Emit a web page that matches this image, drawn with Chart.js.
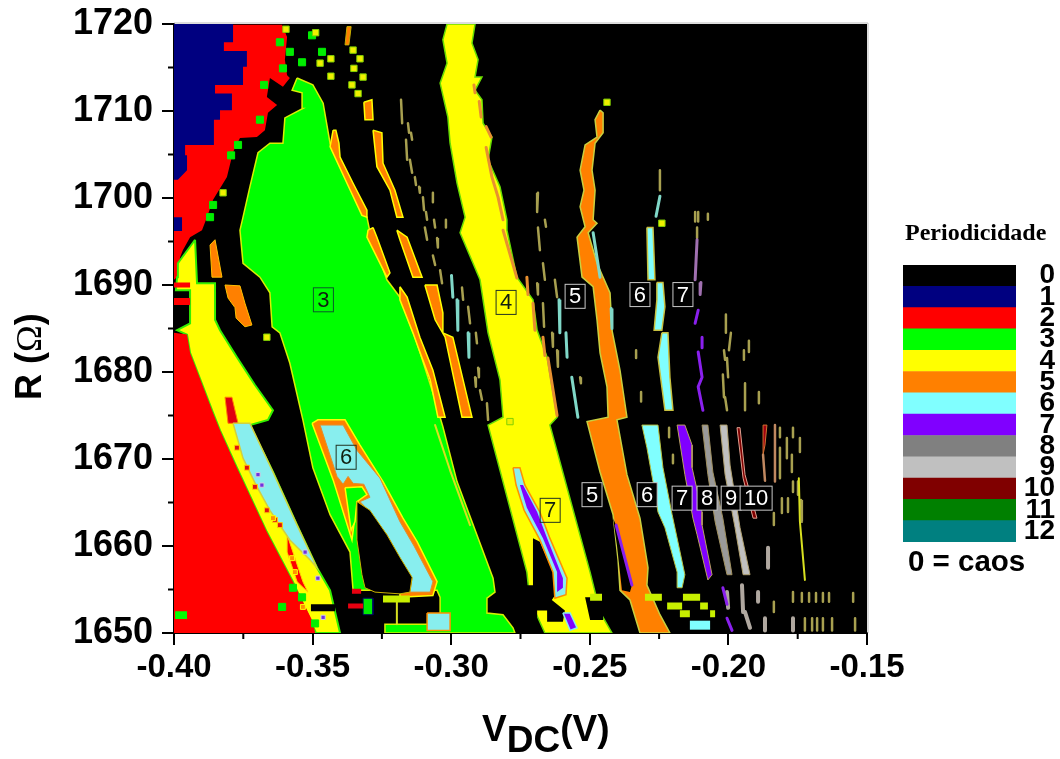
<!DOCTYPE html>
<html>
<head>
<meta charset="utf-8">
<title>Periodicidade</title>
<script src="https://cdn.jsdelivr.net/npm/chart.js@4"></script>
<style>
  body { margin: 0; background: #fff; width: 1060px; height: 759px; overflow: hidden; position: relative; }
  canvas { position: absolute; }
  .txt { position: absolute; white-space: nowrap; color: #000; font-family: "Liberation Sans", Arial, sans-serif; font-weight: bold; }
  #xlabel { left: 482px; top: 708px; font-size: 37px; }
  #xlabel sub { font-size: 37px; vertical-align: -11px; line-height: 0; }
  #ylabel { left: 0; top: 0; font-size: 36px; transform-origin: 0 0; transform: translate(8px, 400px) rotate(-90deg); }
  #ylabel span { font-family: "Liberation Serif", serif; font-weight: normal; }
  #perio { left: 905px; top: 219px; font-family: "Liberation Serif", serif; font-size: 24px; }
  #caos { left: 908px; top: 544px; font-size: 29.5px; }
</style>
</head>
<body>
<canvas id="mapChart" width="1060" height="759" style="left:0;top:0"></canvas>
<canvas id="keyChart" width="152" height="317" style="left:903px;top:245px"></canvas>
<div class="txt" id="xlabel">V<sub>DC</sub>(V)</div>
<div class="txt" id="ylabel">R (<span>Ω</span>)</div>
<div class="txt" id="perio">Periodicidade</div>
<div class="txt" id="caos">0 = caos</div>
<script>
// tick labels
const xTickValues = [-0.4, -0.35, -0.3, -0.25, -0.2, -0.15];
const xTickLabels = ["-0.40", "-0.35", "-0.30", "-0.25", "-0.20", "-0.15"];
const xMinorTicks = [-0.375, -0.325, -0.275, -0.225, -0.175];
const yTickValues = [1650, 1660, 1670, 1680, 1690, 1700, 1710, 1720];
const yTickLabels = ["1650", "1660", "1670", "1680", "1690", "1700", "1710", "1720"];
const yMinorTicks = [1655, 1665, 1675, 1685, 1695, 1705, 1715];

// colour key
const periodLabels = ["0", "1", "2", "3", "4", "5", "6", "7", "8", "9", "10", "11", "12"];
const periodColors = ["#000000", "#000080", "#ff0000", "#00ff00", "#ffff00", "#ff8000", "#80ffff", "#8000ff", "#808080", "#c0c0c0", "#800000", "#008000", "#008080"];
const periodBars = [1, 1, 1, 1, 1, 1, 1, 1, 1, 1, 1, 1, 1];

// boxed numbers on the map: V, R, text
const noteV = [-0.3461, -0.3379, -0.2802, -0.2643, -0.2553, -0.2319, -0.2164, -0.2492, -0.2293, -0.2167, -0.2077, -0.1990, -0.1900];
const noteR = [1688.3, 1670.2, 1688, 1664.1, 1688.7, 1688.9, 1688.9, 1665.9, 1665.9, 1665.5, 1665.5, 1665.5, 1665.5];
const noteText = ["3", "6", "4", "7", "5", "6", "7", "5", "6", "7", "8", "9", "10"];

// regions, pairs of [V, R]
const chaosArea = [[-0.4, 1650], [-0.15, 1650], [-0.15, 1720], [-0.4, 1720]];
const redUpper = [[-0.4, 1719.9], [-0.3610, 1719.9], [-0.3592, 1718.5], [-0.3600, 1715.9], [-0.3592, 1714.1], [-0.3582, 1713.8], [-0.3607, 1712.8], [-0.3654, 1713.8], [-0.3665, 1711.6], [-0.3628, 1710.7], [-0.3661, 1709.8], [-0.3672, 1707.8], [-0.3701, 1707], [-0.3762, 1706.9], [-0.3787, 1705.3], [-0.3809, 1702.4], [-0.3859, 1699.8], [-0.3881, 1697.8], [-0.3899, 1696.3], [-0.3942, 1695.5], [-0.3968, 1694], [-0.3978, 1693.2], [-0.3989, 1690.9], [-0.4, 1690.6]];
const redLower = [[-0.4, 1684.5], [-0.3953, 1684.3], [-0.3942, 1682.2], [-0.3895, 1678.3], [-0.3859, 1675.3], [-0.3834, 1673.3], [-0.3773, 1669], [-0.3665, 1661.6], [-0.3571, 1655.9], [-0.3499, 1651.3], [-0.3491, 1650], [-0.4, 1650]];
const blueTop = [[-0.4, 1720], [-0.3787, 1720], [-0.3787, 1717.9], [-0.3820, 1717.9], [-0.3820, 1716.9], [-0.3737, 1716.9], [-0.3737, 1715.1], [-0.3751, 1715.1], [-0.3751, 1713], [-0.3852, 1713], [-0.3852, 1712], [-0.3791, 1712], [-0.3791, 1710.1], [-0.3834, 1710.1], [-0.3834, 1709], [-0.3856, 1709], [-0.3856, 1706.1], [-0.3960, 1706.1], [-0.3960, 1704.9], [-0.3953, 1704.9], [-0.3953, 1703.2], [-0.3986, 1702.1], [-0.4, 1702.1]];
const blueSmall = [[-0.4, 1697.8], [-0.3971, 1697.8], [-0.3971, 1696.2], [-0.4, 1696.2]];
const yellowLeft = [[-0.3924, 1695.2], [-0.3917, 1690.2], [-0.3852, 1690.2], [-0.3852, 1686], [-0.3834, 1684.8], [-0.3773, 1681.7], [-0.3708, 1678.5], [-0.3643, 1675.6], [-0.3661, 1674.5], [-0.3726, 1673.9], [-0.3643, 1668.5], [-0.3556, 1662.4], [-0.3484, 1657.5], [-0.3437, 1654.9], [-0.3401, 1650], [-0.3488, 1650], [-0.3571, 1655.9], [-0.3665, 1661.6], [-0.3773, 1669], [-0.3834, 1673.3], [-0.3859, 1675.3], [-0.3895, 1678.3], [-0.3942, 1682.2], [-0.3953, 1684.3], [-0.3989, 1684.8], [-0.3942, 1685.6], [-0.3942, 1689.4], [-0.3993, 1689.4], [-0.3989, 1690.9], [-0.3986, 1692.5]];
const redNotchA = [[-0.4, 1690.3], [-0.3942, 1690.3], [-0.3942, 1689.7], [-0.4, 1689.7]];
const redNotchB = [[-0.4, 1688.5], [-0.3942, 1688.5], [-0.3942, 1687.7], [-0.4, 1687.7]];
const redInYellow = [[-0.3816, 1677.1], [-0.3791, 1677.1], [-0.3769, 1674.1], [-0.3805, 1674.1]];
const redInStrip = [[-0.3592, 1661.3], [-0.3535, 1655.9], [-0.3517, 1654.7], [-0.3556, 1655.9], [-0.3592, 1659.3]];
const orangeLeftA = [[-0.3870, 1694.6], [-0.3852, 1695.2], [-0.3827, 1690.9], [-0.3863, 1690.9]];
const orangeLeftB = [[-0.3816, 1690], [-0.3762, 1689.9], [-0.3744, 1687.9], [-0.3719, 1685.4], [-0.3744, 1685.2], [-0.3776, 1686.2], [-0.3780, 1687.4], [-0.3805, 1688.5]];
const cyanLeft = [[-0.3787, 1674.1], [-0.3726, 1674.1], [-0.3643, 1668.5], [-0.3556, 1662.4], [-0.3484, 1657.5], [-0.3509, 1658.4], [-0.3582, 1660.7], [-0.3654, 1664.1], [-0.3704, 1667], [-0.3751, 1670.1]];
const blackStrip = [[-0.3506, 1653.3], [-0.3419, 1653.3], [-0.3419, 1652.5], [-0.3506, 1652.5]];
const greenMain = [[-0.3556, 1713.8], [-0.3499, 1713], [-0.3462, 1710.9], [-0.3437, 1706.3], [-0.3376, 1702.1], [-0.3304, 1697.8], [-0.3293, 1696.1], [-0.3232, 1690.6], [-0.3185, 1688.6], [-0.3123, 1683.3], [-0.3066, 1677.6], [-0.3030, 1673.7], [-0.2979, 1667.4], [-0.2849, 1656.3], [-0.2842, 1654.7], [-0.2871, 1654], [-0.2871, 1652.3], [-0.2813, 1652.1], [-0.2777, 1650.6], [-0.2770, 1650], [-0.3239, 1650], [-0.3239, 1651], [-0.3040, 1651], [-0.3040, 1654.1], [-0.3051, 1654.9], [-0.3354, 1654.9], [-0.3365, 1659.3], [-0.3437, 1663.6], [-0.3499, 1669], [-0.3535, 1674.5], [-0.3582, 1681], [-0.3618, 1684.5], [-0.3646, 1685.2], [-0.3654, 1689.1], [-0.3690, 1690.9], [-0.3751, 1692.5], [-0.3762, 1696.3], [-0.3751, 1697.8], [-0.3726, 1701.3], [-0.3697, 1705.2], [-0.3654, 1706.3], [-0.3607, 1706.3], [-0.3600, 1709.2], [-0.3535, 1710.3], [-0.3538, 1712.1], [-0.3574, 1712.4]];
const greenCorner = [[-0.3996, 1652.5], [-0.3953, 1652.5], [-0.3953, 1651.6], [-0.3996, 1651.6]];
const greenBlock = [[-0.3318, 1654], [-0.3282, 1654], [-0.3282, 1652.1], [-0.3318, 1652.1]];
const orangeLoop = [[-0.3502, 1674.1], [-0.3481, 1674.5], [-0.3383, 1674.5], [-0.3329, 1671.6], [-0.3246, 1667.4], [-0.3174, 1663.2], [-0.3123, 1660.5], [-0.3051, 1655.9], [-0.3066, 1654.3], [-0.3185, 1654.1], [-0.3185, 1654.9], [-0.3340, 1665.3], [-0.3358, 1660.7], [-0.3426, 1667.6]];
const cyanLoop = [[-0.3473, 1673.9], [-0.3390, 1673.9], [-0.3340, 1671], [-0.3257, 1667.8], [-0.3185, 1662.8], [-0.3134, 1660], [-0.3066, 1655.9], [-0.3076, 1654.7], [-0.3149, 1654.7], [-0.3141, 1656.3], [-0.3185, 1658.6], [-0.3232, 1661.3], [-0.3293, 1663.9], [-0.3329, 1665.1], [-0.3293, 1665.6], [-0.3315, 1667.1], [-0.3354, 1667.2], [-0.3372, 1668], [-0.3390, 1667.1], [-0.3412, 1668]];
const greenWedge = [[-0.3383, 1666.7], [-0.3322, 1666.8], [-0.3304, 1665.9], [-0.3340, 1665.1], [-0.3347, 1662.8], [-0.3361, 1661.8]];
const blackWedge = [[-0.3340, 1665.1], [-0.3293, 1664.1], [-0.3232, 1661.3], [-0.3185, 1658.7], [-0.3141, 1656.4], [-0.3149, 1654.7], [-0.3185, 1654.5], [-0.3275, 1654.7], [-0.3311, 1655.2], [-0.3322, 1656.7], [-0.3340, 1660.7]];
const cyanBox = [[-0.3087, 1652.3], [-0.3004, 1652.3], [-0.3004, 1650.3], [-0.3087, 1650.3]];
const orangeTop = [[-0.3376, 1719.7], [-0.3361, 1719.7], [-0.3369, 1717.6], [-0.3383, 1717.6]];
const orangeA1 = [[-0.3426, 1707.8], [-0.3416, 1707.8], [-0.3405, 1706.3], [-0.3401, 1704.7], [-0.3354, 1701.7], [-0.3304, 1698.6], [-0.3304, 1697.8], [-0.3322, 1698], [-0.3376, 1701.7], [-0.3437, 1705.9]];
const orangeA2 = [[-0.3282, 1696.6], [-0.3268, 1695.5], [-0.3221, 1691.4], [-0.3232, 1690.9], [-0.3304, 1695.5], [-0.3300, 1696.3]];
const orangeA3 = [[-0.3185, 1689.8], [-0.3159, 1688.6], [-0.3113, 1684], [-0.3066, 1680.2], [-0.3022, 1674.8], [-0.3048, 1674.8], [-0.3076, 1679.1], [-0.3120, 1682.9], [-0.3138, 1684.5], [-0.3185, 1688.3]];
const orangeB1 = [[-0.3315, 1711], [-0.3286, 1711.3], [-0.3282, 1709], [-0.3311, 1709]];
const orangeB2 = [[-0.3282, 1707.8], [-0.3250, 1707.5], [-0.3246, 1704], [-0.3203, 1700.9], [-0.3174, 1697.8], [-0.3196, 1697.8], [-0.3221, 1700.9], [-0.3268, 1703.6]];
const orangeB3 = [[-0.3196, 1696.3], [-0.3159, 1695.5], [-0.3105, 1690.9], [-0.3138, 1690.9], [-0.3185, 1695.2]];
const orangeB4 = [[-0.3095, 1690], [-0.3051, 1690], [-0.3030, 1686.8], [-0.3030, 1684.5], [-0.2994, 1684], [-0.2925, 1674.8], [-0.2961, 1674.8], [-0.3022, 1684], [-0.3058, 1686]];
const yellowMain = [[-0.3015, 1720], [-0.3030, 1718.2], [-0.3015, 1715.5], [-0.3040, 1713.2], [-0.3012, 1709.3], [-0.3004, 1706.3], [-0.2979, 1701.7], [-0.2950, 1697.8], [-0.2968, 1696], [-0.2896, 1690.6], [-0.2867, 1684.5], [-0.2824, 1679.1], [-0.2813, 1674.8], [-0.2867, 1673.9], [-0.2727, 1657], [-0.2716, 1653.8], [-0.2662, 1650], [-0.2420, 1650], [-0.2463, 1652.4], [-0.2499, 1657], [-0.2644, 1673.9], [-0.2618, 1674.8], [-0.2654, 1681.7], [-0.2690, 1684.8], [-0.2705, 1688.3], [-0.2763, 1690.9], [-0.2799, 1696.3], [-0.2799, 1697.5], [-0.2824, 1701.3], [-0.2867, 1704.4], [-0.2853, 1707], [-0.2885, 1708.6], [-0.2889, 1711.3], [-0.2914, 1712.4], [-0.2889, 1713.9], [-0.2914, 1713.9], [-0.2903, 1715.9], [-0.2925, 1717.8], [-0.2914, 1720]];
const blackInYellow = [[-0.2705, 1660.9], [-0.2680, 1660.5], [-0.2608, 1655.2], [-0.2637, 1653.8], [-0.2590, 1652.6], [-0.2597, 1651.3], [-0.2654, 1651.3], [-0.2654, 1652.6], [-0.2690, 1652.6], [-0.2690, 1650.3], [-0.2727, 1650.3], [-0.2727, 1655.5], [-0.2705, 1655.5]];
const blackBump = [[-0.2517, 1654.1], [-0.2452, 1654.1], [-0.2452, 1651.5], [-0.2499, 1651.5]];
const cyanInYellow = [[-0.2777, 1669], [-0.2752, 1669], [-0.2734, 1667], [-0.2680, 1663.9], [-0.2644, 1660.9], [-0.2582, 1656.3], [-0.2586, 1654.4], [-0.2626, 1654], [-0.2633, 1657], [-0.2680, 1660.7], [-0.2737, 1664.1], [-0.2766, 1667]];
const purpleInYellow = [[-0.2752, 1667], [-0.2727, 1664.4], [-0.2669, 1660.9], [-0.2618, 1657], [-0.2618, 1654.7], [-0.2597, 1655.2], [-0.2597, 1656.3], [-0.2654, 1660.9], [-0.2690, 1663.9], [-0.2741, 1667]];
const purpleBottom = [[-0.2597, 1652.3], [-0.2571, 1652.3], [-0.2546, 1650.6], [-0.2571, 1650.3]];
const orangeMain = [[-0.2463, 1710.1], [-0.2452, 1709.8], [-0.2452, 1707.5], [-0.2481, 1706.3], [-0.2492, 1703.2], [-0.2481, 1700.9], [-0.2488, 1697.5], [-0.2474, 1697.1], [-0.2506, 1696], [-0.2474, 1692.5], [-0.2427, 1689.1], [-0.2420, 1684.8], [-0.2391, 1680.2], [-0.2366, 1674.8], [-0.2402, 1674.5], [-0.2366, 1668.2], [-0.2319, 1663.2], [-0.2290, 1657.5], [-0.2294, 1655.5], [-0.2247, 1652.1], [-0.2211, 1650], [-0.2319, 1650], [-0.2355, 1653.8], [-0.2391, 1654.9], [-0.2398, 1658.4], [-0.2416, 1663.6], [-0.2463, 1668.5], [-0.2510, 1674.3], [-0.2434, 1674.8], [-0.2438, 1678.3], [-0.2463, 1682.2], [-0.2474, 1686], [-0.2488, 1689.8], [-0.2528, 1690.9], [-0.2546, 1695.5], [-0.2517, 1696.7], [-0.2535, 1699], [-0.2521, 1700.9], [-0.2535, 1703.2], [-0.2517, 1706.1], [-0.2474, 1707], [-0.2481, 1709]];
const blackInOrange = [[-0.2416, 1663.2], [-0.2398, 1661.8], [-0.2348, 1655.5], [-0.2355, 1654.7], [-0.2384, 1654.9], [-0.2402, 1660.1]];
const cyanUp1 = [[-0.2294, 1696.6], [-0.2272, 1696.6], [-0.2265, 1690.6], [-0.2290, 1690.6]];
const cyanUp2 = [[-0.2258, 1690.3], [-0.2236, 1690.3], [-0.2229, 1687.5], [-0.2240, 1684.8], [-0.2268, 1684.8], [-0.2258, 1688.3]];
const cyanUp3 = [[-0.2240, 1684.5], [-0.2218, 1684.5], [-0.2211, 1679.4], [-0.2200, 1675.6], [-0.2229, 1675.6], [-0.2254, 1681.7]];
const cyanLow = [[-0.2312, 1673.9], [-0.2254, 1673.9], [-0.2236, 1669], [-0.2203, 1663.6], [-0.2157, 1656.7], [-0.2167, 1655.2], [-0.2182, 1655.2], [-0.2185, 1657], [-0.2229, 1662.1], [-0.2254, 1663.9], [-0.2272, 1667.4], [-0.2294, 1671.3]];
const purpleLow = [[-0.2185, 1673.9], [-0.2157, 1673.9], [-0.2131, 1671.6], [-0.2131, 1669], [-0.2095, 1663.9], [-0.2095, 1662.4], [-0.2059, 1656.7], [-0.2074, 1656.1], [-0.2113, 1661.3], [-0.2128, 1663.2], [-0.2157, 1668.2]];
const grayBand = [[-0.2095, 1673.9], [-0.2074, 1673.9], [-0.2056, 1668.5], [-0.2020, 1663.2], [-0.1987, 1656.7], [-0.2005, 1656.7], [-0.2048, 1662.8], [-0.2074, 1668.2]];
const silverBand = [[-0.2030, 1673.9], [-0.2005, 1673.9], [-0.1994, 1669.3], [-0.1958, 1662.1], [-0.1922, 1656.7], [-0.1947, 1656.7], [-0.1976, 1662.1], [-0.2012, 1668.2]];
const maroonBand = [[-0.1969, 1673.6], [-0.1958, 1673.6], [-0.1940, 1668.2], [-0.1897, 1663.2], [-0.1911, 1663.2], [-0.1947, 1667.8]];
const maroonBit = [[-0.1875, 1673.9], [-0.1861, 1673.9], [-0.1868, 1671.6], [-0.1875, 1670.5]];

// short thin marks, [V1, R1, V2, R2]
const oliveMarks = [
  [-0.3095, 1696.6, -0.3087, 1695.2], [-0.3051, 1695.4, -0.3048, 1694.3], [-0.3066, 1693.4, -0.3058, 1692.3], [-0.3040, 1691.7, -0.3033, 1690.2],
  [-0.2961, 1689.7, -0.2957, 1688.3], [-0.2939, 1687.5, -0.2932, 1685.6], [-0.2911, 1684.5, -0.2907, 1683.3], [-0.2903, 1680.5, -0.2900, 1679.4],
  [-0.2914, 1679.4, -0.2911, 1678.3], [-0.2896, 1677.9, -0.2889, 1676.8], [-0.2871, 1676.4, -0.2867, 1674.5], [-0.2687, 1696.6, -0.2680, 1694],
  [-0.2669, 1692.5, -0.2662, 1690.6], [-0.2690, 1690.2, -0.2687, 1688.9], [-0.2669, 1687.9, -0.2665, 1685.2], [-0.2636, 1684.5, -0.2633, 1682.9],
  [-0.2626, 1690.6, -0.2618, 1688.6], [-0.2618, 1682.5, -0.2615, 1680.6], [-0.2535, 1679.4, -0.2532, 1678.7], [-0.2333, 1682.5, -0.2333, 1681.6],
  [-0.3181, 1711.3, -0.3177, 1708.6], [-0.3156, 1708.6, -0.3152, 1707.5], [-0.3145, 1707.5, -0.3141, 1706.7], [-0.3163, 1706.7, -0.3159, 1704.4],
  [-0.3149, 1704.4, -0.3141, 1702.9], [-0.3131, 1702.4, -0.3127, 1701.5], [-0.3116, 1701.3, -0.3113, 1700.6], [-0.3102, 1700.1, -0.3098, 1698.6],
  [-0.3091, 1698.4, -0.3087, 1697.5], [-0.3066, 1700.6, -0.3066, 1699.5], [-0.3062, 1697.5, -0.3058, 1696.6], [-0.3019, 1697.5, -0.3019, 1696.6],
  [-0.2687, 1700.6, -0.2690, 1698.4], [-0.2662, 1697.5, -0.2658, 1696.7], [-0.2315, 1677.7, -0.2315, 1676.6], [-0.2247, 1703.2, -0.2247, 1700.9],
  [-0.2120, 1698.4, -0.2120, 1697.3], [-0.2109, 1698.4, -0.2109, 1697.3], [-0.2074, 1698.2, -0.2074, 1697.5], [-0.2113, 1696.6, -0.2113, 1695.4],
  [-0.2009, 1686.6, -0.2009, 1684.5], [-0.1991, 1684.5, -0.1998, 1682.5], [-0.1926, 1683.6, -0.1926, 1682.3], [-0.2016, 1682.5, -0.2012, 1681.4],
  [-0.1944, 1682.5, -0.1944, 1681.4], [-0.2005, 1681.6, -0.2001, 1679.4], [-0.2020, 1679.7, -0.2016, 1677.1], [-0.2012, 1677.1, -0.2005, 1675.6],
  [-0.1940, 1678.7, -0.1940, 1675.6], [-0.1890, 1677.7, -0.1890, 1676.4], [-0.2214, 1673.6, -0.2214, 1672.5], [-0.2200, 1670.5, -0.2200, 1669.5],
  [-0.1814, 1673.6, -0.1814, 1672.5], [-0.1789, 1672.4, -0.1789, 1670.1], [-0.1814, 1671.3, -0.1814, 1667.8], [-0.1771, 1670.5, -0.1771, 1668.5],
  [-0.1767, 1667.4, -0.1767, 1666.2], [-0.1742, 1672.4, -0.1742, 1670.8], [-0.1767, 1673.6, -0.1767, 1672.5], [-0.1749, 1667.4, -0.1749, 1665.9],
  [-0.1807, 1665.5, -0.1807, 1663.8], [-0.1785, 1665.5, -0.1785, 1663.9], [-0.1738, 1665.3, -0.1735, 1662.8], [-0.1836, 1663.8, -0.1836, 1662.4],
  [-0.1767, 1654.7, -0.1767, 1653.6], [-0.1735, 1654.6, -0.1735, 1653.6], [-0.1709, 1654.6, -0.1709, 1653.6], [-0.1684, 1654.6, -0.1684, 1653.6],
  [-0.1659, 1654.6, -0.1659, 1653.6], [-0.1637, 1654.6, -0.1637, 1653.6], [-0.1550, 1654.6, -0.1550, 1653.6], [-0.1836, 1653.6, -0.1836, 1652.4],
  [-0.1724, 1651.7, -0.1724, 1650.3], [-0.1698, 1651.7, -0.1698, 1650.3], [-0.1680, 1651.7, -0.1680, 1650.3], [-0.1659, 1651.7, -0.1659, 1650.3],
  [-0.1626, 1651.7, -0.1626, 1650.3], [-0.1543, 1651.7, -0.1543, 1650.3]
];
const grayWideMarks = [
  [-0.1857, 1659.8, -0.1857, 1657.5], [-0.1767, 1651.7, -0.1767, 1650.3], [-0.1868, 1651.7, -0.1868, 1650.3], [-0.1893, 1654.7, -0.1893, 1653.6],
  [-0.1951, 1655.5, -0.1947, 1652.4], [-0.1940, 1652.4, -0.1922, 1650.6], [-0.2005, 1654.7, -0.2001, 1652.9]
];
const cyanMarks = [
  [-0.2999, 1691.1, -0.2994, 1688.6], [-0.2979, 1688.3, -0.2976, 1684.8], [-0.2939, 1684.5, -0.2936, 1681.7], [-0.2611, 1688.3, -0.2608, 1684.5],
  [-0.2586, 1684.5, -0.2582, 1681.7], [-0.2565, 1679.4, -0.2543, 1674.8], [-0.2261, 1697.9, -0.2247, 1700.2], [-0.2423, 1687.3, -0.2420, 1685], [-0.2488, 1696, -0.2463, 1690.9]
];
const orangeStreak = [
  [-0.2918, 1713, -0.2914, 1712.1], [-0.2899, 1711.1, -0.2892, 1709.3], [-0.2874, 1708.2, -0.2856, 1707], [-0.2874, 1705.8, -0.2853, 1702.4],
  [-0.2853, 1702.4, -0.2831, 1700.1], [-0.2831, 1700.1, -0.2813, 1697.5], [-0.2813, 1696.3, -0.2763, 1690.8], [-0.2727, 1690.9, -0.2723, 1688.9],
  [-0.2705, 1687.9, -0.2698, 1684.8], [-0.2669, 1684, -0.2662, 1681.9], [-0.2651, 1681.6, -0.2618, 1675]
];
const purpleMarks = [
  [-0.2120, 1685.6, -0.2109, 1687.1], [-0.2095, 1684, -0.2095, 1682.8], [-0.2109, 1682.3, -0.2095, 1679.4], [-0.2095, 1679.4, -0.2109, 1678.3],
  [-0.2109, 1678.3, -0.2092, 1675.6], [-0.2405, 1662.4, -0.2348, 1655.5], [-0.2020, 1655.2, -0.2005, 1653.3], [-0.2005, 1651.7, -0.1987, 1650.3]
];
const palePurpleMarks = [[-0.2113, 1695.2, -0.2120, 1690.6], [-0.2099, 1690.3, -0.2102, 1688.9]];
const yellowThin = [[-0.1746, 1667.8, -0.1742, 1662.8], [-0.1742, 1662.8, -0.1724, 1656.1], [-0.3058, 1673.9, -0.3004, 1668.7], [-0.3004, 1668.7, -0.2932, 1662.4], [-0.3196, 1654, -0.3196, 1651]];
const tanMarks = [[-0.1832, 1673.9, -0.1832, 1667.4], [-0.1875, 1670.5, -0.1868, 1667.5]];
const blockMarks = [
  [-0.2301, 1654.1, -0.2240, 1654.1], [-0.2164, 1654.1, -0.2102, 1654.1], [-0.2499, 1654.1, -0.2456, 1654.1], [-0.3246, 1653.9, -0.3149, 1653.9],
  [-0.2221, 1653.1, -0.2167, 1653.1], [-0.2102, 1653.1, -0.2074, 1653.1], [-0.2175, 1652.2, -0.2139, 1652.2], [-0.2066, 1652.2, -0.2048, 1652.2]
];
const redBars = [[-0.3372, 1653.1, -0.3318, 1653.1], [-0.3358, 1654.8, -0.3325, 1654.8]];
const cyanBars = [[-0.2139, 1650.9, -0.2066, 1650.9]];

// small square patches, [V, R]
const greenDots = [[-0.3618, 1717.9], [-0.3582, 1716.8], [-0.3607, 1714.9], [-0.3675, 1713], [-0.3690, 1709], [-0.3769, 1706.1], [-0.3794, 1704.9], [-0.3859, 1699.2], [-0.3870, 1697.8], [-0.3466, 1716.8], [-0.3502, 1718.7], [-0.3538, 1715.6], [-0.3610, 1653], [-0.3538, 1654.1], [-0.3491, 1651.1], [-0.3571, 1655.2]];
const yellowDots = [[-0.3473, 1715.5], [-0.3434, 1716], [-0.3434, 1714], [-0.3354, 1717], [-0.3329, 1716], [-0.3351, 1714.9], [-0.3318, 1713.9], [-0.3358, 1713], [-0.3336, 1712], [-0.2438, 1711], [-0.2788, 1674.3], [-0.3823, 1700.6], [-0.3665, 1684], [-0.3596, 1719.4], [-0.3489, 1719], [-0.2240, 1697.1]];
const redDots = [[-0.3773, 1671.3], [-0.3737, 1669], [-0.3708, 1666.8], [-0.3665, 1664.1], [-0.3636, 1663], [-0.3618, 1662.4]];
const orangeDots = [[-0.3535, 1653], [-0.3564, 1657], [-0.3574, 1658.6], [-0.3643, 1663.2]];
const purpleDots = [[-0.3683, 1667], [-0.3697, 1668.2], [-0.3527, 1659.3], [-0.3481, 1656.3], [-0.3462, 1651.8]];

function pts(list) {
  return list.map(function (p) { return { x: p[0], y: p[1] }; });
}
function marks(list) {
  const out = [];
  list.forEach(function (m) {
    out.push({ x: m[0], y: m[1] }, { x: m[2], y: m[3] }, { x: NaN, y: NaN });
  });
  return out;
}
function area(list, color, edge, edgeWidth) {
  return {
    data: pts(list.concat([list[0]])), fill: "shape", backgroundColor: color,
    borderColor: edge || color, borderWidth: edge ? (edgeWidth || 1.5) : 0,
    pointRadius: 0, tension: 0,
  };
}
function streak(list, color, width, cap) {
  return {
    data: marks(list), fill: false, borderColor: color, borderWidth: width,
    pointRadius: 0, tension: 0, spanGaps: false, borderCapStyle: cap || "round",
  };
}
function dots(list, color, size, edge) {
  return {
    data: pts(list), showLine: false, pointStyle: "rect", pointRadius: size,
    backgroundColor: color, pointBorderColor: edge || color, pointBorderWidth: 1,
    pointBackgroundColor: color,
  };
}

// painted bottom to top
const layers = [
  area(chaosArea, "#000000"),
  area(redUpper, "#ff0000"),
  area(blueTop, "#000080"),
  area(blueSmall, "#000080"),
  area(yellowLeft, "#ffff00", "#33ee00", 2),
  area(redNotchA, "#ff0000"),
  area(redNotchB, "#ff0000"),
  area(redLower, "#ff0000"),
  area(redInYellow, "#e00010", "#ff8000", 1),
  area(redInStrip, "#ff0000", "#ffd000", 1),
  area(orangeLeftA, "#ff8000", "#ffc000", 1),
  area(orangeLeftB, "#ff8000", "#ffc000", 1),
  area(cyanLeft, "#88eeee", "#d0d040", 1.5),
  area(blackStrip, "#000000"),
  area(greenMain, "#00ff00", "#d8f000", 1.5),
  area(greenCorner, "#00ff00"),
  area(greenBlock, "#00ee00", "#000060", 1),
  area(orangeLoop, "#ff8000", "#ffff00", 1.5),
  area(cyanLoop, "#88eeee", "#e09030", 1),
  area(greenWedge, "#00ff00", "#ffff00", 1.5),
  area(blackWedge, "#000000", "#c8b000", 1),
  area(cyanBox, "#88eeee", "#ff9000", 1.5),
  area(orangeTop, "#ff8000", "#c8b000", 1),
  area(orangeA1, "#ff8000", "#ffff00", 1.5),
  area(orangeA2, "#ff8000", "#ffff00", 1.5),
  area(orangeA3, "#ff8000", "#ffff00", 1.5),
  area(orangeB1, "#ff8000", "#ffff00", 1.5),
  area(orangeB2, "#ff8000", "#ffff00", 1.5),
  area(orangeB3, "#ff8000", "#ffff00", 1.5),
  area(orangeB4, "#ff8000", "#ffff00", 1.5),
  area(yellowMain, "#ffff00", "#66dd00", 1.5),
  area(blackInYellow, "#000000"),
  area(cyanInYellow, "#88eeee", "#ff9000", 1.5),
  area(purpleInYellow, "#8000ff"),
  area(purpleBottom, "#8000ff", "#88eeee", 1.5),
  area(orangeMain, "#ff8000", "#c8d040", 1.5),
  area(blackBump, "#000000"),
  area(blackInOrange, "#000000"),
  area(cyanUp1, "#80ffff", "#c8c040", 1.5),
  area(cyanUp2, "#80ffff", "#c8c040", 1.5),
  area(cyanUp3, "#80ffff", "#c8c040", 1.5),
  area(cyanLow, "#80ffff", "#b8c040", 1),
  area(purpleLow, "#8000ff", "#b8a060", 1),
  area(grayBand, "#9a9a9a", "#a09060", 1),
  area(silverBand, "#c0c0c0", "#b0a070", 1),
  area(maroonBand, "#800000", "#e0a090", 1),
  area(maroonBit, "#a00010", "#d07030", 1),
  streak(oliveMarks, "#a8a050", 2.5),
  streak(grayWideMarks, "#b0a8a0", 4),
  streak(cyanMarks, "#80d8c8", 3),
  streak(orangeStreak, "#e89030", 3),
  streak(purpleMarks, "#8a20ee", 3),
  streak(palePurpleMarks, "#a070b0", 3),
  streak(yellowThin, "#d8e020", 2),
  streak(tanMarks, "#c08860", 2.5),
  streak(blockMarks, "#c8f000", 7, "butt"),
  streak(redBars, "#e80010", 5, "butt"),
  streak(cyanBars, "#80ffff", 9, "butt"),
  dots(greenDots, "#00ee00", 5),
  dots(yellowDots, "#f0f000", 4.5, "#80d000"),
  dots(redDots, "#e01010", 3.5, "#ffd000"),
  dots(orangeDots, "#ff9000", 3.5, "#ffff00"),
  dots(purpleDots, "#7030e0", 3, "#d0d0e0"),
];
// the first dataset is painted last, so reverse through order
layers.forEach(function (d, i) { d.order = layers.length - i; });

// boxed numbers, short ticks and the pale frame
const notesPlugin = {
  id: "notes",
  afterDatasetsDraw(chart) {
    const c = chart.ctx;
    const xs = chart.scales.x;
    const ys = chart.scales.y;
    const a = chart.chartArea;
    c.save();
    c.strokeStyle = "#000";
    c.lineWidth = 2;
    c.beginPath();
    xMinorTicks.forEach(function (v) {
      const x = xs.getPixelForValue(v);
      c.moveTo(x, a.bottom);
      c.lineTo(x, a.bottom + 6);
    });
    yMinorTicks.forEach(function (v) {
      const y = ys.getPixelForValue(v);
      c.moveTo(a.left, y);
      c.lineTo(a.left - 6, y);
    });
    c.stroke();
    c.strokeStyle = "#bbbbbb";
    c.lineWidth = 1;
    c.beginPath();
    c.moveTo(a.left, a.top - 1);
    c.lineTo(a.right + 1, a.top - 1);
    c.lineTo(a.right + 1, a.bottom);
    c.stroke();
    c.textAlign = "center";
    c.textBaseline = "middle";
    noteText.forEach(function (t, i) {
      const x = xs.getPixelForValue(noteV[i]);
      const y = ys.getPixelForValue(noteR[i]);
      const onBlack = i > 3;
      const w = t.length > 1 ? 32 : 20;
      if (onBlack) {
        c.fillStyle = "#000";
        c.fillRect(x - w / 2, y - 12, w, 24);
      }
      c.strokeStyle = onBlack ? "#c8c8c8" : (i == 0 ? "#0a5a2a" : "#223322");
      c.lineWidth = 1;
      c.strokeRect(x - w / 2, y - 12, w, 24);
      c.fillStyle = onBlack ? "#ffffff" : "#102010";
      c.font = '22px "Liberation Sans", Arial, sans-serif';
      c.fillText(t, x, y + 1);
    });
    c.restore();
  },
};

new Chart(document.getElementById("mapChart"), {
  type: "line",
  data: { datasets: layers },
  plugins: [notesPlugin],
  options: {
    responsive: false,
    animation: false,
    layout: { padding: { top: 24, right: 193, left: 0, bottom: 0 } },
    plugins: { legend: { display: false }, tooltip: { enabled: false } },
    scales: {
      x: {
        type: "linear", min: -0.4, max: -0.15,
        afterFit(s) { s.height = 126; },
        afterBuildTicks(s) { s.ticks = xTickValues.map(function (v) { return { value: v }; }); },
        grid: { drawOnChartArea: false, color: "#000", lineWidth: 2, tickLength: 12 },
        border: { color: "#000", width: 2 },
        ticks: {
          autoSkip: false, maxRotation: 0, color: "#000", padding: 3,
          font: { family: '"Liberation Sans", Arial', weight: "bold", size: 33 },
          callback(v, i) { return xTickLabels[i]; },
        },
      },
      y: {
        type: "linear", min: 1650, max: 1720,
        // the big tick labels would push the plot down otherwise
        afterFit(s) { s.width = 174; s.paddingTop = 0; s.paddingBottom = 0; },
        afterBuildTicks(s) { s.ticks = yTickValues.map(function (v) { return { value: v }; }); },
        grid: { drawOnChartArea: false, color: "#000", lineWidth: 2, tickLength: 12 },
        border: { color: "#000", width: 2 },
        ticks: {
          autoSkip: false, color: "#000", padding: 9,
          font: { family: '"Liberation Sans", Arial', weight: "bold", size: 36 },
          callback(v, i) { return yTickLabels[i]; },
        },
      },
    },
  },
});

new Chart(document.getElementById("keyChart"), {
  type: "bar",
  data: {
    labels: periodLabels,
    datasets: [{ data: periodBars, backgroundColor: periodColors, barPercentage: 1, categoryPercentage: 1 }],
  },
  options: {
    indexAxis: "y",
    responsive: false,
    animation: false,
    layout: { padding: { top: 20, bottom: 20 } },
    plugins: { legend: { display: false }, tooltip: { enabled: false } },
    scales: {
      x: { display: false, min: 0, max: 1 },
      y: {
        position: "right",
        afterFit(s) { s.width = 39; },
        grid: { display: false },
        border: { display: false },
        ticks: {
          autoSkip: false, color: "#000", padding: 0, crossAlign: "far",
          font: { family: '"Liberation Sans", Arial', weight: "bold", size: 28 },
        },
      },
    },
  },
});
</script>
</body>
</html>
